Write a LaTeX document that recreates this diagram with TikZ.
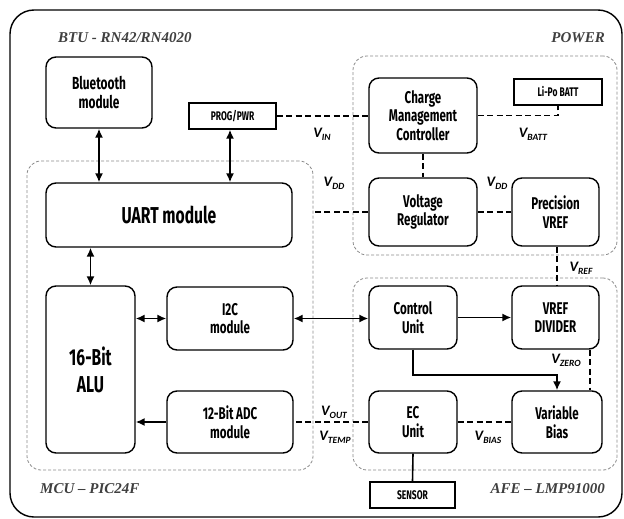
\documentclass[tikz,border=0pt]{standalone}
\usepackage{fontspec}
\usetikzlibrary{arrows.meta,calc}
\newfontfamily\nodefont[FakeStretch=0.68]{Fira Sans}
\newfontfamily\grpfont{Liberation Serif}
\newfontfamily\vfont{Carlito}
\definecolor{grp}{HTML}{404040}
\definecolor{dashgray}{HTML}{8A8A8A}
\newcommand{\VL}[1]{{\vfont\bfseries\itshape V\raisebox{-0.4ex}{\fontsize{9.5}{9.5}\selectfont #1}}}
\tikzset{
  blk/.style={draw=black, line width=1.4pt, rounded corners=10pt, align=center,
    font=\nodefont\bfseries\fontsize{17}{18.5}\selectfont, inner sep=0pt},
  sq/.style={draw=black, line width=1.4pt, align=center,
    font=\nodefont\bfseries\fontsize{12.5}{14}\selectfont, inner sep=0pt},
  grpbox/.style={draw=dashgray, line width=0.8pt, dash pattern=on 3pt off 2pt, rounded corners=14pt, inner sep=0pt},
  grplbl/.style={font=\grpfont\bfseries\itshape\fontsize{15}{18}\selectfont, text=grp, inner sep=0pt},
  vlbl/.style={font=\vfont\bfseries\itshape\fontsize{14.5}{16}\selectfont, inner sep=0pt},
  conn/.style={line width=1.6pt, draw=black},
  dconn/.style={line width=1.8pt, draw=black, dash pattern=on 6pt off 3.5pt},
  arr/.style={conn, -{Latex[length=9pt,width=8pt]}},
  darr/.style={conn, {Latex[length=9pt,width=8pt]}-{Latex[length=9pt,width=8pt]}}
}
\begin{document}
\begin{tikzpicture}[x=1pt,y=-1pt]
\useasboundingbox (0,0) rectangle (624,519);
% outer frame
\draw[line width=1.4pt, rounded corners=24pt] (10,10) rectangle (622,517);
% group boxes
\node[grpbox, minimum width=286pt, minimum height=309pt] (MCU) at (170,315.5) {};
\node[grpbox, minimum width=264pt, minimum height=199pt] (PWR) at (485,155.5) {};
\node[grpbox, minimum width=264pt, minimum height=192pt] (AFE) at (485,374) {};
% group labels
\node[grplbl, anchor=west] (lbtu) at (58,38) {BTU - RN42/RN4020};
\node[grplbl, anchor=east] (lpwr) at (605,38) {POWER};
\node[grplbl, anchor=west] (lmcu) at (40,489) {MCU – PIC24F};
\node[grplbl, anchor=east] (lafe) at (605,489) {AFE – LMP91000};
% blocks
\node[blk, font=\nodefont\bfseries\fontsize{17.5}{19.5}\selectfont, minimum width=106pt, minimum height=71pt] (BT) at (99,92.5) {Bluetooth\\module};
\node[sq, minimum width=87pt, minimum height=26pt] (PG) at (232.5,116) {PROG/PWR};
\node[blk, font=\nodefont\bfseries\fontsize{23}{26}\selectfont, minimum width=246pt, minimum height=64pt] (UART) at (169,215) {UART module};
\node[blk, font=\nodefont\bfseries\fontsize{23}{27}\selectfont, minimum width=89pt, minimum height=167pt] (ALU) at (90.5,369.5) {16-Bit\\ALU};
\node[blk, minimum width=126pt, minimum height=63pt] (I2C) at (230,318.5) {I2C\\module};
\node[blk, minimum width=126pt, minimum height=62pt] (ADC) at (230,422) {12-Bit ADC\\module};
\node[blk, minimum width=108pt, minimum height=75pt] (CMC) at (423,115.5) {Charge\\Management\\Controller};
\node[sq, minimum width=88pt, minimum height=26pt] (LI) at (558,92) {Li-Po BATT};
\node[blk, minimum width=108pt, minimum height=68pt] (VR) at (423,212) {Voltage\\Regulator};
\node[blk, minimum width=87pt, minimum height=68pt] (PV) at (555.5,212) {Precision\\VREF};
\node[blk, minimum width=88pt, minimum height=63pt] (CU) at (413,317.5) {Control\\Unit};
\node[blk, minimum width=87pt, minimum height=63pt] (VD) at (555.5,317.5) {VREF\\DIVIDER};
\node[blk, minimum width=88pt, minimum height=62pt] (EC) at (413,422) {EC\\Unit};
\node[blk, minimum width=90pt, minimum height=62pt] (VB) at (557,422) {Variable\\Bias};
\node[sq, minimum width=85pt, minimum height=26pt] (SE) at (412.5,495) {SENSOR};
% solid connectors
\draw[darr] (BT.south) -- (BT.south |- UART.north);
\draw[darr] ([xshift=-2.5pt]PG.south) -- ([xshift=-2.5pt]PG.south |- UART.north);
\draw[darr] (ALU.north) -- (ALU.north |- UART.south);
\draw[darr] (I2C.west) -- (I2C.west -| ALU.east);
\draw[darr] (I2C.east) -- (I2C.east -| CU.west);
\draw[arr] (CU.east) -- (VD.west);
\draw[arr] (CU.south) -- ++(0,25) -| (VB.north);
\draw[arr] (ADC.west) -- (ADC.west -| ALU.east);
\draw[conn] (EC.south) -- (SE.north);
% dashed connectors
\draw[dconn] (PG.east) -- (PG.east -| CMC.west);
\draw[dconn] (CMC.east) -| (LI.south);
\draw[dconn] (CMC.south) -- (VR.north);
\draw[dconn] (VR.west) -- (VR.west -| MCU.east);
\draw[dconn] (VR.east) -- (PV.west);
\draw[dconn] ([xshift=1.5pt]PV.south) -- ([xshift=1.5pt]PV.south |- VD.north);
\draw[dconn] ([xshift=-10pt]VD.south east) -- ([xshift=-10pt]VD.south east |- VB.north);
\draw[dconn] (EC.west) -- (ADC.east);
\draw[dconn] (EC.east) -- (VB.west);
% voltage labels
\node[vlbl] (vin) at (322,134) {\VL{IN}};
\node[vlbl] (vbatt) at (533,134) {\VL{BATT}};
\node[vlbl] (vdd1) at (334,183) {\VL{DD}};
\node[vlbl] (vdd2) at (497,183) {\VL{DD}};
\node[vlbl] (vref) at (581,268) {\VL{REF}};
\node[vlbl] (vzero) at (566,360) {\VL{ZERO}};
\node[vlbl] (vout) at (334,412) {\VL{OUT}};
\node[vlbl] (vtemp) at (335,437) {\VL{TEMP}};
\node[vlbl] (vbias) at (488,437) {\VL{BIAS}};
\end{tikzpicture}
\end{document}
